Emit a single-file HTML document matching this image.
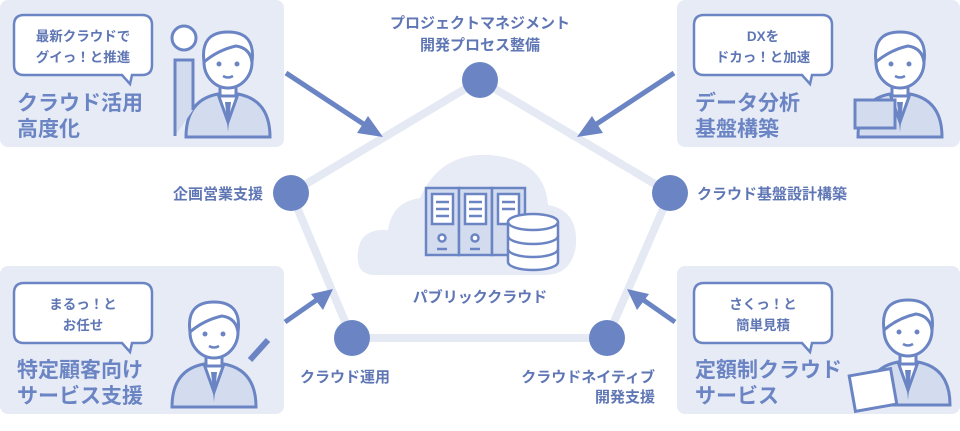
<!DOCTYPE html>
<html><head><meta charset="utf-8"><style>
body{margin:0;width:960px;height:426px;background:#fff;overflow:hidden;font-family:"Liberation Sans","Noto Sans CJK JP",sans-serif;}
</style></head><body>
<svg width="960" height="426" viewBox="0 0 960 426" xmlns="http://www.w3.org/2000/svg" font-family="Liberation Sans, Noto Sans CJK JP, sans-serif" font-weight="bold">
<defs>
<g id="person">
  <path d="M-42,75 Q-42,38 -10,32 L10,32 Q42,38 42,75 Z" fill="#d3dcef" stroke="#6b85c4" stroke-width="3"/>
  <path d="M-10,32 L0,60 L10,32" fill="#fff" stroke="#6b85c4" stroke-width="3"/>
  <path d="M-3,40 L0,70 L3,40" fill="#6b85c4"/>
  <rect x="-8" y="18" width="16" height="16" fill="#fff" stroke="#6b85c4" stroke-width="3"/>
  <ellipse cx="0" cy="0" rx="24" ry="26" fill="#fff" stroke="#6b85c4" stroke-width="3"/>
  <path d="M-24,0 Q-28,-30 0,-30 Q28,-30 24,0 Q22,-14 8,-16 Q-10,-12 -24,0Z" fill="#fff" stroke="#6b85c4" stroke-width="3"/>
  <circle cx="-9" cy="2" r="2.5" fill="#6b85c4"/><circle cx="9" cy="2" r="2.5" fill="#6b85c4"/>
  <path d="M-5,14 Q0,17 5,14" stroke="#6b85c4" stroke-width="2.5" fill="none"/>
</g>
</defs>
<rect x="0" y="0" width="284" height="147" rx="8" fill="#e7ebf5"/>
<rect x="677" y="0" width="283" height="147" rx="8" fill="#e7ebf5"/>
<rect x="0" y="266" width="284" height="148" rx="8" fill="#e7ebf5"/>
<rect x="677" y="266" width="283" height="148" rx="8" fill="#e7ebf5"/>
<polygon points="480,80 670,193 607,338 352,338 291,193" fill="none" stroke="#e5e9f4" stroke-width="8"/>
<g stroke="#6b85c4" stroke-width="5" fill="#6b85c4">
<line x1="286" y1="73" x2="365" y2="125"/><polygon points="383,137 357,133 368,116" stroke="none"/>
<line x1="674" y1="73" x2="595" y2="125"/><polygon points="577,137 592,116 603,133" stroke="none"/>
<line x1="285" y1="322" x2="318" y2="299"/><polygon points="333,289 323,310 311,294" stroke="none"/>
<line x1="675" y1="322" x2="642" y2="299"/><polygon points="627,289 649,294 637,310" stroke="none"/>
</g>
<g fill="#6b85c4"><circle cx="480" cy="80" r="18"/><circle cx="670" cy="193" r="18"/><circle cx="607" cy="338" r="18"/><circle cx="352" cy="338" r="18"/><circle cx="291" cy="193" r="18"/></g>
<path d="M375,275 Q355,275 358,252 Q360,228 388,230 Q392,202 420,198 Q440,152 490,155 Q545,160 548,205 Q578,210 576,245 Q572,275 545,275 Z" fill="#e7ebf5"/>
<g stroke="#6b85c4" stroke-width="2.5" fill="#d3dcef">
<rect x="426" y="188" width="33" height="67"/><rect x="459" y="188" width="33" height="67"/><rect x="492" y="188" width="33" height="67"/>
</g>
<g stroke="#6b85c4" stroke-width="2.5" fill="#fff">
<rect x="432" y="194" width="21" height="30"/><rect x="465" y="194" width="21" height="30"/><rect x="498" y="194" width="21" height="30"/>
<circle cx="442" cy="238" r="3.5"/><circle cx="475" cy="238" r="3.5"/>
<path d="M508,222 a25,8 0 0 1 50,0 v40 a25,8 0 0 1 -50,0 Z"/><path d="M508,222 a25,8 0 0 0 50,0 M508,236 a25,8 0 0 0 50,0 M508,249 a25,8 0 0 0 50,0" fill="none"/>
</g>
<g stroke="#6b85c4" stroke-width="2.5"><line x1="436" y1="202" x2="449" y2="202"/><line x1="436" y1="209" x2="449" y2="209"/><line x1="436" y1="216" x2="449" y2="216"/><line x1="469" y1="202" x2="482" y2="202"/><line x1="469" y1="209" x2="482" y2="209"/><line x1="469" y1="216" x2="482" y2="216"/><line x1="502" y1="202" x2="515" y2="202"/><line x1="502" y1="209" x2="515" y2="209"/><line x1="437" y1="249" x2="447" y2="249"/><line x1="470" y1="249" x2="480" y2="249"/></g>
<g fill="#5f76b5" font-size="15">
<text x="480" y="302" text-anchor="middle">パブリッククラウド</text>
<text x="480" y="28" text-anchor="middle">プロジェクトマネジメント</text>
<text x="480" y="50" text-anchor="middle">開発プロセス整備</text>
<text x="263" y="199" text-anchor="end">企画営業支援</text>
<text x="697" y="199">クラウド基盤設計構築</text>
<text x="300" y="382">クラウド運用</text>
<text x="655" y="382" text-anchor="end">クラウドネイティブ</text>
<text x="655" y="402" text-anchor="end">開発支援</text>
</g>
<g fill="#fff" stroke="#6b85c4" stroke-width="2.5">
<path d="M24,15 H142 Q152,15 152,25 V65 Q152,75 142,75 H132 L130,84 L122,75 H24 Q14,75 14,65 V25 Q14,15 24,15Z"/>
<path d="M704,15 H822 Q832,15 832,25 V65 Q832,75 822,75 H812 L810,84 L802,75 H704 Q694,75 694,65 V25 Q694,15 704,15Z"/>
<path d="M24,283 H142 Q152,283 152,293 V333 Q152,343 142,343 H132 L130,352 L122,343 H24 Q14,343 14,333 V293 Q14,283 24,283Z"/>
<path d="M704,283 H822 Q832,283 832,293 V333 Q832,343 822,343 H812 L810,352 L802,343 H704 Q694,343 694,333 V293 Q694,283 704,283Z"/>
</g>
<g fill="#5f76b5" font-size="13.5" text-anchor="middle">
<text x="83" y="41">最新クラウドで</text><text x="83" y="62">グイっ！と推進</text>
<text x="763" y="41">DXを</text><text x="763" y="62">ドカっ！と加速</text>
<text x="83" y="309">まるっ！と</text><text x="83" y="330">お任せ</text>
<text x="763" y="309">さくっ！と</text><text x="763" y="330">簡単見積</text>
</g>
<g fill="#6b85c4" font-size="21">
<text x="17" y="110">クラウド活用</text><text x="17" y="136">高度化</text>
<text x="695" y="110">データ分析</text><text x="695" y="136">基盤構築</text>
<text x="17" y="377">特定顧客向け</text><text x="17" y="403">サービス支援</text>
<text x="695" y="377">定額制クラウド</text><text x="695" y="403">サービス</text>
</g>
<g transform="translate(228,62)"><use href="#person"/></g>
<path d="M175,136 V60 H193 V110" fill="#d3dcef" stroke="#6b85c4" stroke-width="3"/>
<circle cx="184" cy="38" r="12" fill="#fff" stroke="#6b85c4" stroke-width="3"/>
<g transform="translate(900,62)"><use href="#person"/></g>
<rect x="855" y="100" width="40" height="28" fill="#d3dcef" stroke="#6b85c4" stroke-width="3"/>
<g transform="translate(214,332)"><use href="#person"/></g>
<path d="M250,360 L268,340" stroke="#6b85c4" stroke-width="6"/>
<g transform="translate(908,330)"><use href="#person"/></g>
<rect x="852" y="372" width="42" height="36" fill="#fff" stroke="#6b85c4" stroke-width="3" transform="rotate(-10 873 390)"/>
</svg>
</body></html>
